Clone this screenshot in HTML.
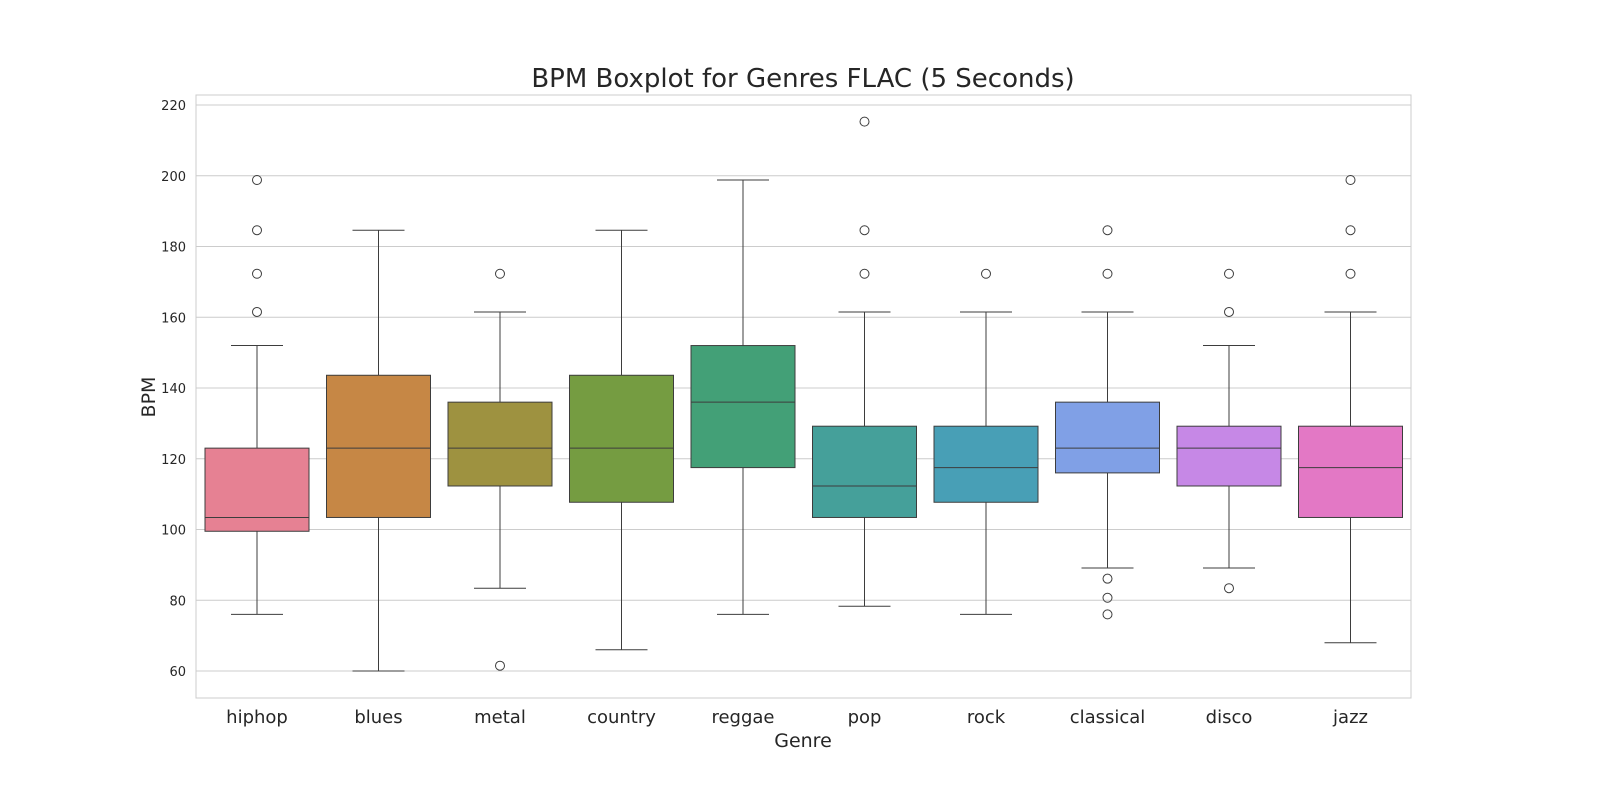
<!DOCTYPE html>
<html><head><meta charset="utf-8"><style>
body{margin:0;background:#fff;font-family:"Liberation Sans","DejaVu Sans",sans-serif;}
svg text{font-family:"DejaVu Sans","Liberation Sans",sans-serif;fill:#262626;}
</style></head><body>
<svg id="chart" width="1600" height="800">
<text x="803" y="87" font-size="26" text-anchor="middle">BPM Boxplot for Genres FLAC (5 Seconds)</text>
<text x="803" y="747" font-size="19" text-anchor="middle">Genre</text>
<text x="155" y="397" font-size="19" text-anchor="middle" transform="rotate(-90 155 397)">BPM</text>
<g id="grid"></g><g id="boxes"></g><g id="ticks"></g>
<rect x="196" y="95" width="1215" height="603" fill="none" stroke="#cccccc" stroke-width="1"/>
</svg>
<script>
const genres=["hiphop","blues","metal","country","reggae","pop","rock","classical","disco","jazz"];
const whiskerLow=[76,60,83.4,66,76,78.3,76,89.1,89.1,68];
const q1=[99.5,103.4,112.3,107.7,117.5,103.4,107.7,116,112.3,103.4];
const medians=[103.4,123,123,123,136,112.3,117.5,123,123,117.5];
const q3=[123,143.6,136,143.6,152,129.2,129.2,136,129.2,129.2];
const whiskerHigh=[152,184.6,161.5,184.6,198.8,161.5,161.5,161.5,152,161.5];
const outliers=[[161.5,172.3,184.6,198.8],[],[172.3,61.5],[],[],[172.3,184.6,215.3],[172.3],[172.3,184.6,86.1,80.7,76],[161.5,172.3,83.4],[172.3,184.6,198.8]];
const colors=["#e68193","#c68745","#9e9240","#759c41","#43a077","#45a09a","#489fb6","#80a0e6","#c688e6","#e378c5"];
const yTicks=[60,80,100,120,140,160,180,200,220];
const NS="http://www.w3.org/2000/svg";
const y=v=>671-(v-60)*(566/160);
const x=i=>257+i*121.5;
function mk(t,a,p){const e=document.createElementNS(NS,t);for(const k in a)e.setAttribute(k,a[k]);p.appendChild(e);return e;}
const grid=document.getElementById('grid'),boxes=document.getElementById('boxes'),ticks=document.getElementById('ticks');
yTicks.forEach(v=>{
 const l=mk('line',{x1:196,x2:1411,y1:y(v),y2:y(v),stroke:'#cccccc'},grid);
 
 
 const t=mk('text',{x:186,y:y(v)+5,'font-size':13,'text-anchor':'end'},ticks);t.textContent=v;
 
 
});
genres.forEach((g,i)=>{
 const cx=x(i),w=104,g2=mk('g',{},boxes);
 
 
 const s='#3d3d3d';
 mk('line',{x1:cx,x2:cx,y1:y(q3[i]),y2:y(whiskerHigh[i]),stroke:s},g2);
 mk('line',{x1:cx,x2:cx,y1:y(q1[i]),y2:y(whiskerLow[i]),stroke:s},g2);
 mk('line',{x1:cx-26,x2:cx+26,y1:y(whiskerHigh[i]),y2:y(whiskerHigh[i]),stroke:s},g2);
 mk('line',{x1:cx-26,x2:cx+26,y1:y(whiskerLow[i]),y2:y(whiskerLow[i]),stroke:s},g2);
 mk('rect',{x:cx-w/2,y:y(q3[i]),width:w,height:y(q1[i])-y(q3[i]),fill:colors[i],stroke:s},g2);
 mk('line',{x1:cx-w/2,x2:cx+w/2,y1:y(medians[i]),y2:y(medians[i]),stroke:s},g2);
 outliers[i].forEach(o=>{const c=mk('circle',{cx:cx,cy:y(o),r:4.5,fill:'none',stroke:s},g2);
  
  });
 const t=mk('text',{x:cx,y:723,'font-size':18,'text-anchor':'middle'},ticks);t.textContent=g;
 
 
});
</script>
</body></html>
